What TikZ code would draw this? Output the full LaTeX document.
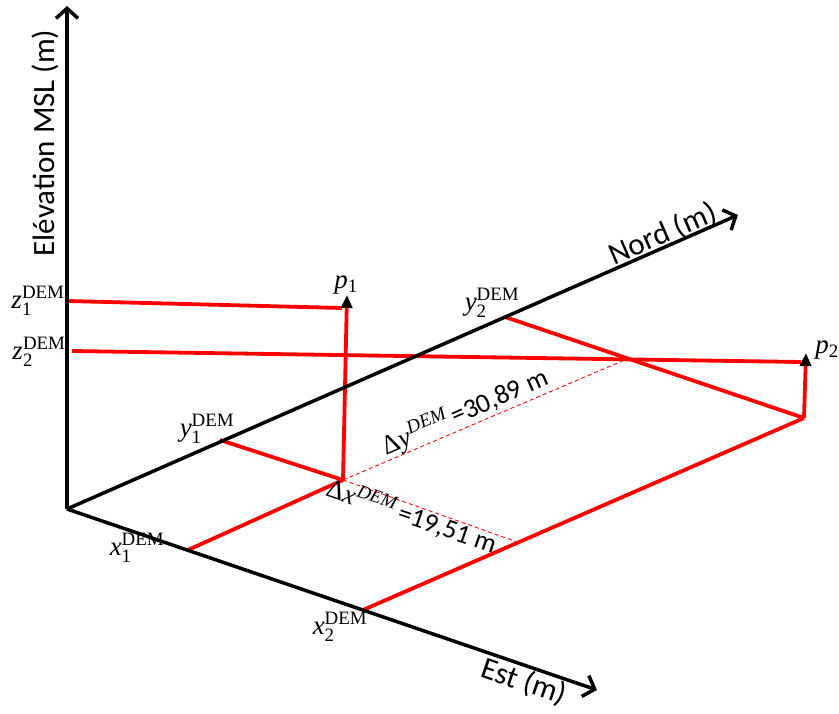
\documentclass[tikz,border=0pt]{standalone}
\usepackage{fix-cm}
\usepackage{amsmath}
\usepackage[no-math]{fontspec}
\setmainfont{Carlito}
\newfontfamily\mser{Liberation Serif}
\newcommand\dlab[2]{\mbox{\mser\itshape #1}$^{\text{\mser DEM}}_{\text{\mser #2}}$}
\newcommand\plab[2]{\mbox{\mser\itshape #1}$_{\text{\mser #2}}$}
\usetikzlibrary{arrows.meta}
\begin{document}
\begin{tikzpicture}[x=1pt,y=-1pt,
  axis/.style={line width=3.5pt, black, -{Straight Barb[length=10pt,width=22pt,line width=3.5pt]}},
  redl/.style={line width=3.8pt, red},
  redarrow/.style={line width=3.8pt, red, -{Triangle[length=13pt,width=11pt,black]}},
  reddash/.style={line width=0.9pt, red, dash pattern=on 4pt off 3pt},
  axlab/.style={font=\fontsize{31}{36}\selectfont, inner sep=0pt},
  mlab/.style={font=\fontsize{27}{32}\selectfont, inner sep=0pt},
  distlab/.style={font=\fontsize{27}{32}\selectfont, inner sep=0pt}]
\useasboundingbox (0,0) rectangle (839,714);
% coordinates
\coordinate (O) at (67,509);
\coordinate (zt) at (67,6);
\coordinate (nt) at (738,215);
\coordinate (et) at (597,690);
\coordinate (x1) at (188,550);
\coordinate (x2) at (363,610);
\coordinate (y1) at (220,440);
\coordinate (y2) at (505,317);
\coordinate (g1) at (343,480);
\coordinate (g2) at (804,418);
\coordinate (p1) at (347,295);
\coordinate (p2) at (806,353);
\coordinate (z1a) at (68,301);
\coordinate (z1b) at (342,308);
\coordinate (z2a) at (72,351);
\coordinate (z2b) at (801,362);
\coordinate (dy) at (627,359);
\coordinate (dx) at (517,542);
% dashed guides
\draw[reddash] (g1) -- (dy);
\draw[reddash] (g1) -- (dx);
% red construction lines
\draw[redl] (y1) -- (g1);
\draw[redl] (x1) -- (g1);
\draw[redl] (y2) -- (g2);
\draw[redl] (x2) -- (g2);
\draw[redl] (z1a) -- (z1b);
\draw[redl] (z2a) -- (z2b);
\draw[redarrow] (g1) -- (p1);
\draw[redarrow] (g2) -- (p2);
% axes
\draw[axis] (O) -- (zt);
\draw[axis] (O) -- (nt);
\draw[axis] (O) -- (et);
% axis labels
\node[axlab, rotate=90] (lz) at (45,143) {Elévation MSL (m)};
\node[axlab, rotate=23.6] (ln) at (663,234) {Nord (m)};
\node[axlab, rotate=-19] (le) at (524,682) {Est (m)};
% math labels
\node[mlab] (lz1) at (38,301) {\dlab{z}{1}};
\node[mlab] (lz2) at (39,352) {\dlab{z}{2}};
\node[mlab] (ly1) at (207,429) {\dlab{y}{1}};
\node[mlab] (ly2) at (492,303) {\dlab{y}{2}};
\node[mlab] (lx1) at (137,548) {\dlab{x}{1}};
\node[mlab] (lx2) at (340,627) {\dlab{x}{2}};
\node[mlab] (lp1) at (346,285) {\plab{p}{1}};
\node[mlab] (lp2) at (827,350) {\plab{p}{2}};
% distance labels
\node[distlab, rotate=23.6] (ldy) at (465,412) {{\mser Δ\itshape y}$^{\text{\mser\itshape DEM}}$\,=30,89 m};
\node[distlab, rotate=-19] (ldx) at (412,516) {{\mser Δ\itshape x}$^{\text{\mser\itshape DEM}}$\,=19,51 m};
\end{tikzpicture}
\end{document}
